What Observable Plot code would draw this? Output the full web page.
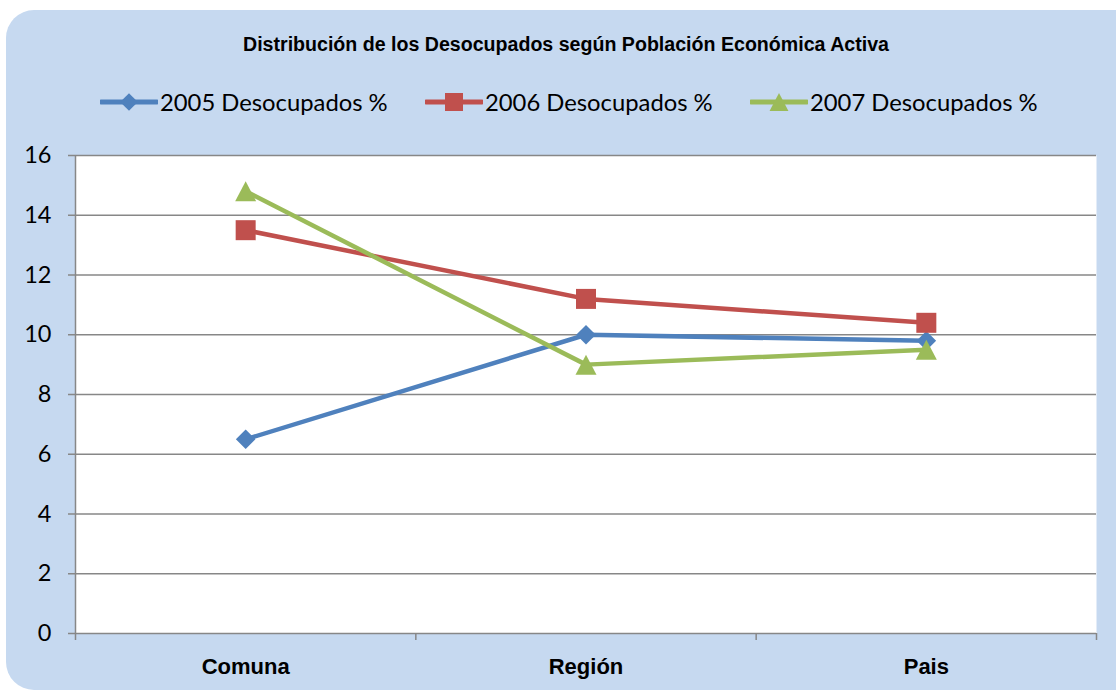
<!DOCTYPE html>
<html>
<head>
<meta charset="utf-8">
<script src="https://cdn.jsdelivr.net/npm/d3@7"></script>
<script src="https://cdn.jsdelivr.net/npm/@observablehq/plot@0.6"></script>
<style>
  html, body { margin: 0; padding: 0; background: #ffffff; width: 1116px; height: 691px; overflow: hidden; }
  #box { position: absolute; left: 6px; top: 10px; width: 1140px; height: 680px; background: #c6d9f0; border-radius: 28px; }
  #title { position: absolute; left: 0; top: 33px; width: 1132px; text-align: center; font-family: "Liberation Sans Narrow", "Arial Narrow", "Liberation Sans", sans-serif; font-weight: bold; font-size: 19.6px; color: #000; }
  #legend { position: absolute; left: 100px; top: 88px; display: flex; font-family: Lato, "Open Sans", sans-serif; font-size: 23.8px; color: #000; }
  .item { display: flex; align-items: center; width: 325px; }
  .item svg { margin-right: 2px; }
  #chart { position: absolute; left: 0; top: 140px; }
</style>
</head>
<body>
<div id="box"></div>
<div id="title">Distribución de los Desocupados según Población Económica Activa</div>
<div id="legend"></div>
<div id="chart"></div>
<script>
const categories = ["Comuna", "Región", "Pais"];
const seriesNames = ["2005 Desocupados %", "2006 Desocupados %", "2007 Desocupados %"];
const values2005 = [6.5, 10.0, 9.8];
const values2006 = [13.5, 11.2, 10.4];
const values2007 = [14.8, 9.0, 9.5];
const yTicks = [0, 2, 4, 6, 8, 10, 12, 14, 16];
const colors = ["#4f81bd", "#c0504d", "#9bbb59"];

const diamond = { draw(ctx, size) { const r = Math.sqrt(size / Math.PI) * 0.98; ctx.moveTo(0, -r); ctx.lineTo(r, 0); ctx.lineTo(0, r); ctx.lineTo(-r, 0); ctx.closePath(); } };
const square = { draw(ctx, size) { const r = Math.sqrt(size / Math.PI); ctx.rect(-r, -r, 2 * r, 2 * r); } };
const triangle = { draw(ctx, size) { const r = Math.sqrt(size / Math.PI); ctx.moveTo(0, -r); ctx.lineTo(r * 1.05, r); ctx.lineTo(-r * 1.05, r); ctx.closePath(); } };
const symbols = [diamond, square, triangle];

const allValues = [values2005, values2006, values2007];
const data = [];
allValues.forEach((vals, s) => vals.forEach((v, i) => data.push({ series: seriesNames[s], cat: categories[i], xi: i + 0.5, value: v })));

// legend
const legend = document.getElementById("legend");
seriesNames.forEach((name, s) => {
  const item = document.createElement("div");
  item.className = "item";
  const svg = d3.create("svg").attr("width", 58).attr("height", 26);
  svg.append("line").attr("x1", 1).attr("x2", 57).attr("y1", 13).attr("y2", 13).attr("stroke", colors[s]).attr("stroke-width", 5).attr("stroke-linecap", "round");
  const p = d3.path();
  symbols[s].draw(p, Math.PI * 9 * 9);
  svg.append("path").attr("d", p.toString()).attr("transform", "translate(29,13)").attr("fill", colors[s]);
  item.appendChild(svg.node());
  const span = document.createElement("span");
  span.textContent = name;
  item.appendChild(span);
  legend.appendChild(item);
});

const chart = Plot.plot({
  width: 1116,
  height: 551,
  marginLeft: 75,
  marginRight: 20,
  marginTop: 15,
  marginBottom: 58,
  style: { background: "transparent", fontFamily: "Lato, 'Open Sans', sans-serif" },
  x: { type: "linear", domain: [0, categories.length], axis: null },
  y: { domain: [0, 16], axis: null },
  color: { domain: seriesNames, range: colors },
  symbol: { domain: seriesNames, range: symbols },
  marks: [
    Plot.frame({ fill: "white", stroke: null }),
    Plot.gridY(yTicks, { stroke: "#878787", strokeOpacity: 1, strokeWidth: 1.5 }),
    Plot.ruleX([0], { stroke: "#878787", strokeWidth: 1.5 }),
    Plot.axisY({ ticks: yTicks, tickSize: 7, tickPadding: 17, stroke: "#878787", strokeWidth: 1.5, fontSize: 23.5, fill: "#000", label: null, tickFormat: d => String(d) }),
    Plot.axisX({ ticks: d3.range(categories.length + 1), tickSize: 7, tickFormat: () => "", stroke: "#878787", strokeWidth: 1.5, label: null }),
    Plot.axisX({ ticks: categories.map((c, i) => i + 0.5), tickSize: 0, tickPadding: 25, tickFormat: d => categories[Math.floor(d)], fontSize: 22, fontWeight: "bold", fill: "#000", fontFamily: "'Liberation Sans Narrow', 'Arial Narrow', 'Liberation Sans', sans-serif", label: null }),
    Plot.line(data, { x: "xi", y: "value", z: "series", stroke: "series", strokeWidth: 4.5 }),
    Plot.dot(data, { x: "xi", y: "value", fill: "series", symbol: "series", r: 10, stroke: null })
  ]
});
document.getElementById("chart").appendChild(chart);
</script>
</body>
</html>
